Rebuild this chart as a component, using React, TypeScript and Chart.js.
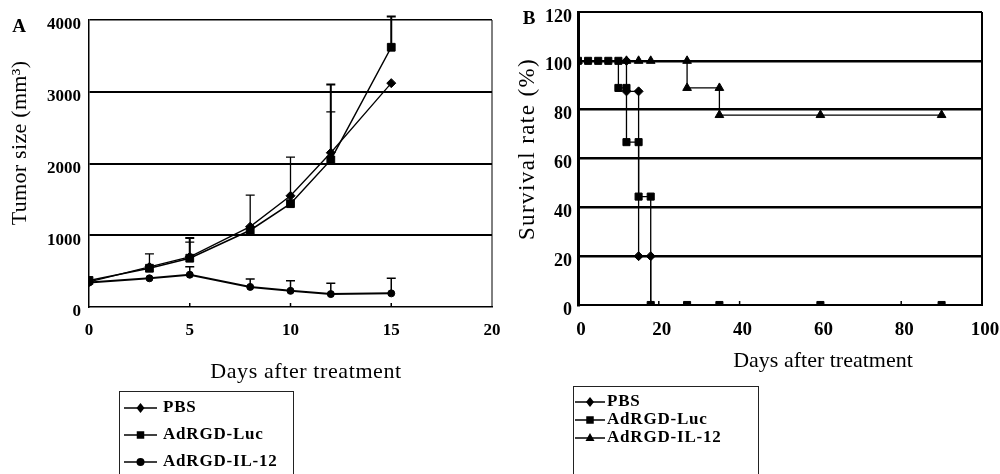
import React, { useEffect, useRef } from 'react';
import { Chart, registerables } from 'chart.js';

Chart.register(...registerables);

const FONT = "'Liberation Serif', 'Times New Roman', serif";

// ---------- Panel A: tumor size ----------
const tumorDays = [0, 3, 5, 8, 10, 12, 15];
const tumorPBS = [350, 560, 700, 1120, 1550, 2150, 3120];
const tumorPBSErr = [0, 180, 205, 440, 540, 570, 0];
const tumorLuc = [370, 540, 680, 1070, 1440, 2050, 3620];
const tumorLucErr = [0, 0, 280, 0, 0, 1050, 430];
const tumorIL12 = [340, 400, 450, 280, 225, 180, 190];
const tumorIL12Err = [0, 0, 110, 110, 140, 150, 210];
const tumorTicksX = [0, 5, 10, 15, 20];
const tumorTicksY = [0, 1000, 2000, 3000, 4000];

// ---------- Panel B: survival ----------
const survPBSDays = [0, 12, 12, 15, 15, 18, 18];
const survPBS = [100, 100, 87.5, 87.5, 20, 20, 0];
const survLucDays = [0, 2.5, 5, 7.5, 10, 10, 12, 12, 15, 15, 18, 18, 27, 35, 60, 90];
const survLuc = [100, 100, 100, 100, 100, 88.9, 88.9, 66.7, 66.7, 44.4, 44.4, 0, 0, 0, 0, 0];
const survIL12Days = [0, 12, 15, 18, 27, 27, 35, 35, 60, 90];
const survIL12 = [100, 100, 100, 100, 100, 88.9, 88.9, 77.8, 77.8, 77.8];
const survTicksX = [0, 20, 40, 60, 80, 100];
const survTicksY = [0, 20, 40, 60, 80, 100, 120];

const seriesNames = ['PBS', 'AdRGD-Luc', 'AdRGD-IL-12'];
const xTitle = 'Days after treatment';
const yTitleA = 'Tumor size (mm\u00B3)';
const yTitleB = 'Survival rate (%)';

function drawMarker(ctx: CanvasRenderingContext2D, style: string, x: number, y: number, r: number) {
  ctx.beginPath();
  if (style === 'rect') {
    ctx.rect(x - r * 0.75, y - r * 0.75, r * 1.5, r * 1.5);
  } else if (style === 'rectRot') {
    ctx.moveTo(x, y - r);
    ctx.lineTo(x + r * 0.8, y);
    ctx.lineTo(x, y + r);
    ctx.lineTo(x - r * 0.8, y);
    ctx.closePath();
  } else if (style === 'triangle') {
    ctx.moveTo(x, y - r);
    ctx.lineTo(x + r * 0.9, y + r * 0.6);
    ctx.lineTo(x - r * 0.9, y + r * 0.6);
    ctx.closePath();
  } else {
    ctx.arc(x, y, r * 0.8, 0, Math.PI * 2);
  }
  ctx.fillStyle = '#000';
  ctx.fill();
}

const errorBarPlugin = {
  id: 'errorBars',
  afterDatasetsDraw(chart: any) {
    const ctx: CanvasRenderingContext2D = chart.ctx;
    const xs = chart.scales.x;
    const ys = chart.scales.y;
    chart.data.datasets.forEach((ds: any) => {
      const errs: number[] | undefined = ds.errors;
      if (!errs) return;
      ctx.save();
      ctx.strokeStyle = '#000';
      ctx.lineWidth = ds.errWidth || 1.5;
      ds.data.forEach((p: any, j: number) => {
        if (!errs[j]) return;
        const x = xs.getPixelForValue(p.x);
        const y0 = ys.getPixelForValue(p.y);
        const y1 = ys.getPixelForValue(p.y + errs[j]);
        ctx.beginPath();
        ctx.moveTo(x, y0);
        ctx.lineTo(x, y1);
        ctx.moveTo(x - 4.5, y1);
        ctx.lineTo(x + 4.5, y1);
        ctx.stroke();
      });
      ctx.restore();
    });
  },
};

type DecorOpts = {
  letter: string; letterX: number; letterY: number;
  yTitle: string; yTitleX: number; yTitleY: number; yTitleSize: number; yTitleSpacing: number;
  xTitleX: number; xTitleY: number; xTitleSize: number; xTitleSpacing: number;
  box: [number, number, number, number];
  lx0: number; lx1: number; ltx: number; ly0: number; ldy: number;
  rightBorder: number; tickLen: number; innerTicks: number[];
};

function setSpacing(ctx: any, v: number) {
  if ('letterSpacing' in ctx) ctx.letterSpacing = v + 'px';
}

function makeDecor(o: DecorOpts) {
  return {
    id: 'decor',
    afterDraw(chart: any) {
      const ctx: CanvasRenderingContext2D = chart.ctx;
      const area = chart.chartArea;
      const xs = chart.scales.x;
      ctx.save();
      ctx.fillStyle = '#000';
      ctx.strokeStyle = '#000';
      // right border
      ctx.lineWidth = o.rightBorder;
      ctx.beginPath();
      ctx.moveTo(area.right, area.top);
      ctx.lineTo(area.right, area.bottom);
      ctx.stroke();
      // inner x ticks
      ctx.lineWidth = 1.5;
      o.innerTicks.forEach((v) => {
        const x = xs.getPixelForValue(v);
        ctx.beginPath();
        ctx.moveTo(x, area.bottom);
        ctx.lineTo(x, area.bottom - o.tickLen);
        ctx.stroke();
      });
      // panel letter
      ctx.font = `bold 19px ${FONT}`;
      ctx.textAlign = 'center';
      ctx.textBaseline = 'middle';
      ctx.fillText(o.letter, o.letterX, o.letterY);
      // y title
      ctx.save();
      ctx.translate(o.yTitleX, o.yTitleY);
      ctx.rotate(-Math.PI / 2);
      ctx.font = `${o.yTitleSize}px ${FONT}`;
      setSpacing(ctx, o.yTitleSpacing);
      ctx.fillText(o.yTitle, 0, 0);
      ctx.restore();
      // x title
      ctx.font = `${o.xTitleSize}px ${FONT}`;
      setSpacing(ctx, o.xTitleSpacing);
      ctx.fillText(xTitle, o.xTitleX, o.xTitleY);
      setSpacing(ctx, 0);
      // legend
      ctx.lineWidth = 1;
      ctx.strokeStyle = '#222';
      ctx.strokeRect(o.box[0] + 0.5, o.box[1] + 0.5, o.box[2], o.box[3]);
      ctx.font = `bold 17px ${FONT}`;
      ctx.textAlign = 'left';
      chart.data.datasets.forEach((ds: any, i: number) => {
        const y = o.ly0 + i * o.ldy;
        ctx.strokeStyle = '#000';
        ctx.lineWidth = 1.5;
        ctx.beginPath();
        ctx.moveTo(o.lx0, y);
        ctx.lineTo(o.lx1, y);
        ctx.stroke();
        drawMarker(ctx, ds.pointStyle, (o.lx0 + o.lx1) / 2, y, 5);
        setSpacing(ctx, 0.8);
        ctx.fillText(ds.label, o.ltx, y);
        setSpacing(ctx, 0);
      });
      ctx.restore();
    },
  };
}

const gridColor = (c: any) => (c.tick && c.tick.value === 0 ? 'rgba(0,0,0,0)' : '#000');
const plainLabel = (v: any) => String(v);

function buildTumorConfig(): any {
  const pts = (ys: number[]) => tumorDays.map((d, i) => ({ x: d, y: ys[i] }));
  const common = { borderColor: '#000', pointBackgroundColor: '#000', pointBorderColor: '#000', pointBorderWidth: 1, tension: 0, fill: false };
  return {
    type: 'line',
    data: {
      datasets: [
        { ...common, label: seriesNames[0], data: pts(tumorPBS), errors: tumorPBSErr, errWidth: 1.3, borderWidth: 1.3, pointStyle: 'rectRot', pointRadius: 4.5 },
        { ...common, label: seriesNames[1], data: pts(tumorLuc), errors: tumorLucErr, errWidth: 2, borderWidth: 1.5, pointStyle: 'rect', pointRadius: 5.5 },
        { ...common, label: seriesNames[2], data: pts(tumorIL12), errors: tumorIL12Err, errWidth: 1.5, borderWidth: 2, pointStyle: 'circle', pointRadius: 3.5 },
      ],
    },
    options: {
      responsive: false,
      animation: false,
      devicePixelRatio: 1,
      layout: { padding: { left: 0, top: 20, right: 8, bottom: 0 } },
      plugins: { legend: { display: false }, tooltip: { enabled: false } },
      scales: {
        x: {
          type: 'linear', min: 0, max: 20,
          afterBuildTicks: (s: any) => { s.ticks = tumorTicksX.map((v) => ({ value: v })); },
          afterFit: (s: any) => { s.height = 167; s.paddingLeft = 0; s.paddingRight = 0; },
          grid: { display: false, drawTicks: false },
          border: { display: true, color: '#000', width: 1.5 },
          ticks: { font: { family: FONT, size: 17, weight: 'bold' }, color: '#000', padding: 13, callback: plainLabel },
        },
        y: {
          type: 'linear', min: 0, max: 4000,
          afterBuildTicks: (s: any) => { s.ticks = tumorTicksY.map((v) => ({ value: v })); },
          afterFit: (s: any) => { s.width = 89; s.paddingTop = 0; s.paddingBottom = 0; },
          grid: {
            color: gridColor,
            lineWidth: (c: any) => (c.tick && c.tick.value === 4000 ? 1.5 : 2),
            drawTicks: false,
          },
          border: { display: true, color: '#000', width: 1.5 },
          ticks: { font: { family: FONT, size: 17, weight: 'bold' }, color: '#000', padding: 8, labelOffset: 5, callback: plainLabel },
        },
      },
    },
    plugins: [
      errorBarPlugin,
      makeDecor({
        letter: 'A', letterX: 19, letterY: 27,
        yTitle: yTitleA, yTitleX: 20, yTitleY: 143, yTitleSize: 22, yTitleSpacing: 0.3,
        xTitleX: 306, xTitleY: 372, xTitleSize: 22, xTitleSpacing: 0.6,
        box: [119, 391, 174, 100],
        lx0: 124, lx1: 157, ltx: 163, ly0: 408, ldy: 27,
        rightBorder: 1, tickLen: 4, innerTicks: [5, 10, 15],
      }),
    ],
  };
}

function buildSurvivalConfig(): any {
  const pts = (xs: number[], ys: number[]) => xs.map((d, i) => ({ x: d, y: ys[i] }));
  const common = { borderColor: '#000', pointBackgroundColor: '#000', pointBorderColor: '#000', pointBorderWidth: 1, tension: 0, fill: false, borderWidth: 1.3 };
  return {
    type: 'line',
    data: {
      datasets: [
        { ...common, label: seriesNames[0], data: pts(survPBSDays, survPBS), pointStyle: 'rectRot', pointRadius: 4.5 },
        { ...common, label: seriesNames[1], data: pts(survLucDays, survLuc), pointStyle: 'rect', pointRadius: 5 },
        { ...common, label: seriesNames[2], data: pts(survIL12Days, survIL12), pointStyle: 'triangle', pointRadius: 5 },
      ],
    },
    options: {
      responsive: false,
      animation: false,
      devicePixelRatio: 1,
      layout: { padding: { left: 0, top: 12, right: 18, bottom: 0 } },
      plugins: { legend: { display: false }, tooltip: { enabled: false } },
      scales: {
        x: {
          type: 'linear', min: 0, max: 100,
          afterBuildTicks: (s: any) => { s.ticks = survTicksX.map((v) => ({ value: v })); },
          afterFit: (s: any) => { s.height = 169; s.paddingLeft = 0; s.paddingRight = 0; },
          grid: { display: false, drawTicks: false },
          border: { display: true, color: '#000', width: 2 },
          ticks: { font: { family: FONT, size: 19, weight: 'bold' }, color: '#000', padding: 14, labelOffset: 3, callback: plainLabel },
        },
        y: {
          type: 'linear', min: 0, max: 120,
          afterBuildTicks: (s: any) => { s.ticks = survTicksY.map((v) => ({ value: v })); },
          afterFit: (s: any) => { s.width = 78; s.paddingTop = 0; s.paddingBottom = 0; },
          grid: {
            color: gridColor,
            lineWidth: (c: any) => (c.tick && c.tick.value === 120 ? 2 : 2.5),
            drawTicks: false,
          },
          border: { display: true, color: '#000', width: 3 },
          ticks: { font: { family: FONT, size: 18, weight: 'bold' }, color: '#000', padding: 6, labelOffset: 5, callback: plainLabel },
        },
      },
    },
    plugins: [
      makeDecor({
        letter: 'B', letterX: 29, letterY: 19.5,
        yTitle: yTitleB, yTitleX: 28, yTitleY: 149, yTitleSize: 23, yTitleSpacing: 1.4,
        xTitleX: 323, xTitleY: 361, xTitleSize: 22, xTitleSpacing: 0,
        box: [73, 386, 185, 100],
        lx0: 75, lx1: 105, ltx: 107, ly0: 402, ldy: 18,
        rightBorder: 2, tickLen: 4, innerTicks: [20, 40, 60, 80],
      }),
    ],
  };
}

function ChartCanvas({ left, build }: { left: number; build: () => any }) {
  const ref = useRef<HTMLCanvasElement>(null);
  useEffect(() => {
    const chart = new Chart(ref.current as HTMLCanvasElement, build());
    return () => chart.destroy();
  }, []);
  return (
    <canvas
      ref={ref}
      width={500}
      height={474}
      style={{ position: 'absolute', left, top: 0, width: 500, height: 474 }}
    />
  );
}

export default function App() {
  return (
    <div style={{ position: 'absolute', left: 0, top: 0, width: 1000, height: 474, background: '#fff', overflow: 'hidden' }}>
      <ChartCanvas left={0} build={buildTumorConfig} />
      <ChartCanvas left={500} build={buildSurvivalConfig} />
    </div>
  );
}
